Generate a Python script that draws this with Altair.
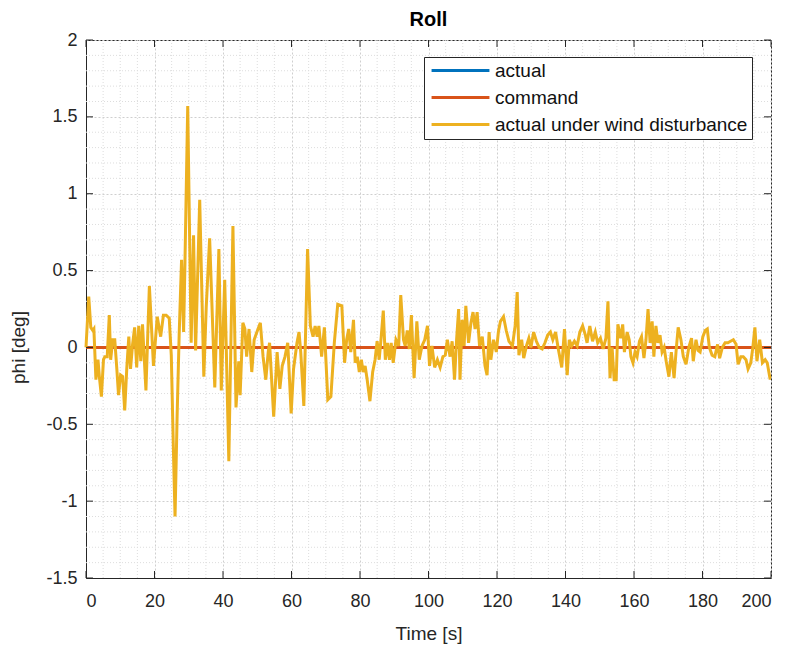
import altair as alt
import pandas as pd

TITLE = "Roll"
X_LABEL = "Time [s]"
Y_LABEL = "phi [deg]"
SERIES = ["actual", "command", "actual under wind disturbance"]
COLORS = ["#0072BD", "#D95319", "#EDB120"]
FONT = "Liberation Sans"

x_ticks = [0, 20, 40, 60, 80, 100, 120, 140, 160, 180, 200]
y_ticks = [-1.5, -1.0, -0.5, 0.0, 0.5, 1.0, 1.5, 2.0]
x_minor = [5, 10, 15, 25, 30, 35, 45, 50, 55, 65, 70, 75, 85, 90, 95, 105, 110, 115,
           125, 130, 135, 145, 150, 155, 165, 170, 175, 185, 190, 195]
y_minor = [-1.4, -1.3, -1.2, -1.1, -0.9, -0.8, -0.7, -0.6, -0.4, -0.3, -0.2, -0.1,
           0.1, 0.2, 0.3, 0.4, 0.6, 0.7, 0.8, 0.9, 1.1, 1.2, 1.3, 1.4, 1.6, 1.7, 1.8, 1.9]

# reference signals (actual and command both sit at zero)
ref_t = [0, 200]
actual_phi = [0.0, 0.0]
command_phi = [0.0, 0.0]

# actual under wind disturbance
t_seg1 = [0, 0.8, 1.4, 2.0, 2.3, 2.9, 3.5, 3.9, 4.5, 5.1, 5.5, 6.2, 6.8, 7.2, 7.8, 8.4,
          9.0, 9.5, 10.1, 10.7, 11.3, 11.9, 12.5, 13.0, 13.6, 14.2, 14.8, 15.4, 16.0,
          16.5, 17.5, 18.5, 19.7, 20.8, 21.8, 22.6, 23.4, 24.3, 24.9, 25.5, 26.0, 26.6,
          27.2, 27.9, 28.5, 28.9, 29.7, 30.7, 31.4, 32.0, 33.2, 34.4, 35.1, 36.1, 37.6,
          38.8, 39.5, 40.5, 41.7, 42.9, 43.8, 44.6, 45.0, 45.8]
v_seg1 = [0.0, 0.33, 0.13, 0.11, 0.12, -0.21, -0.08, -0.19, -0.32, -0.08, -0.06, -0.06,
          0.21, -0.08, 0.05, 0.05, -0.14, -0.31, -0.18, -0.19, -0.41, -0.14, 0.07, -0.14,
          0.02, 0.13, -0.13, 0.14, -0.09, 0.15, -0.28, 0.40, -0.12, 0.20, 0.07, 0.21,
          0.21, 0.19, -0.05, -0.65, -1.10, -0.45, 0.08, 0.57, 0.10, 0.56, 1.57, 0.03,
          0.73, -0.02, 0.96, -0.19, 0.26, 0.71, -0.26, 0.64, -0.28, 0.44, -0.74, 0.79,
          -0.39, -0.09, -0.31, 0.16]
t_seg2 = [46.4, 46.9, 47.6, 48.4, 49.1, 49.9, 50.9, 51.7, 52.5, 53.2, 53.6, 54.8, 55.8,
          56.6, 57.3, 58.1, 58.9, 59.9, 60.6, 61.6, 62.2, 62.7, 63.6, 64.7, 65.5, 66.3,
          66.9, 67.5, 68.0, 68.8, 69.6, 70.6, 71.5, 72.5, 73.5, 74.7]
v_seg2 = [0.12, -0.06, 0.12, -0.16, 0.05, 0.10, 0.16, -0.06, -0.21, -0.03, 0.03, -0.45,
          -0.03, -0.27, -0.12, -0.06, 0.03, -0.43, -0.14, 0.03, 0.10, -0.03, -0.38, 0.64,
          0.14, 0.07, 0.14, 0.07, 0.14, -0.06, 0.13, -0.34, -0.32, 0.03, 0.28, 0.27]
t_seg3 = [75.5, 76.1, 76.7, 77.3, 78.1, 78.6, 79.2, 79.8, 80.4, 80.9, 81.5, 82.1, 82.9,
          83.7, 84.4, 85.0, 85.6, 86.2, 86.8, 87.4, 88.0, 88.6, 89.1, 89.7, 90.5, 91.3,
          91.9, 92.7, 93.2, 93.8, 94.4, 95.0, 95.8, 96.6, 97.3, 98.1, 98.9, 99.7, 100.3,
          101.0, 101.8, 102.6, 103.4, 104.2, 104.9, 105.5, 106.3, 106.9, 107.6, 108.2,
          108.8, 109.2, 109.8, 110.4, 110.9, 111.7]
v_seg3 = [-0.10, 0.05, 0.12, -0.03, 0.18, -0.10, -0.06, -0.16, -0.08, -0.16, -0.12, -0.21,
          -0.35, -0.16, -0.08, 0.04, -0.08, 0.07, 0.24, -0.08, 0.03, -0.08, 0.03, -0.10,
          0.05, 0.01, 0.34, 0.05, 0.01, 0.11, -0.01, 0.21, -0.20, 0.17, -0.08, 0.01, 0.05,
          0.14, -0.12, 0.01, -0.13, -0.08, -0.13, -0.06, -0.05, 0.05, -0.06, 0.04, -0.21,
          0.05, 0.25, -0.21, 0.18, 0.01, 0.27, 0.03]
t_seg4 = [112.4, 113.0, 113.6, 114.2, 114.9, 115.7, 116.5, 117.1, 117.7, 118.2, 119.0,
          119.8, 120.4, 121.0, 121.9, 122.7, 123.5, 124.5, 125.3, 125.9, 126.4, 127.2,
          127.8, 128.6, 129.3, 129.9, 130.7, 131.5, 132.3, 133.2, 134.0, 134.8, 135.6,
          136.3, 137.1, 137.9, 138.9, 139.7, 140.5, 141.1, 141.8, 142.6, 143.4, 144.2,
          145.0, 145.8, 146.3, 147.1, 147.9, 148.7, 149.4, 150.2, 151.0, 151.8, 152.4,
          153.0, 153.6, 154.2]
v_seg4 = [0.16, 0.23, 0.12, 0.23, 0.01, 0.07, -0.12, -0.18, 0.10, -0.08, 0.05, -0.03,
          0.10, 0.17, 0.20, 0.11, 0.04, 0.01, 0.14, 0.36, -0.05, 0.05, -0.07, 0.01, 0.06,
          0.00, 0.10, 0.04, 0.00, -0.01, 0.03, 0.08, 0.10, 0.05, 0.10, -0.01, -0.13, 0.12,
          -0.18, 0.05, 0.01, 0.04, 0.01, 0.10, 0.14, 0.08, 0.03, 0.14, 0.04, 0.10, 0.03,
          0.06, -0.01, 0.06, 0.30, -0.20, 0.00, -0.21]
t_seg5 = [154.8, 155.3, 156.1, 156.7, 157.2, 158.0, 158.6, 159.1, 159.7, 160.3, 160.9,
          161.6, 162.2, 162.9, 163.5, 164.1, 164.7, 165.3, 165.8, 166.4, 167.0, 167.6,
          168.2, 168.8, 169.4, 170.2, 170.9, 171.7, 172.3, 172.9, 173.7, 174.4, 175.2,
          176.0, 176.8, 177.3, 178.1, 178.7, 179.3, 180.1, 180.8, 181.4, 182.0, 182.8,
          183.6, 184.4, 185.0, 185.8, 186.6, 187.4, 188.2, 189.0, 189.8, 190.4, 191.2,
          191.9, 192.7, 193.3, 194.1, 194.7, 195.3, 195.9, 196.7, 197.5, 198.3, 198.9,
          199.7, 200.0]
v_seg5 = [-0.21, 0.15, 0.06, 0.15, -0.03, 0.10, 0.05, -0.06, -0.10, -0.03, -0.06, 0.04,
          0.07, -0.07, 0.05, 0.25, 0.03, 0.17, -0.06, 0.14, 0.03, 0.08, -0.03, 0.00, -0.09,
          -0.19, -0.03, -0.20, -0.02, 0.13, 0.05, -0.06, -0.11, 0.00, 0.06, -0.09, 0.05,
          -0.02, -0.03, 0.07, 0.11, 0.12, 0.00, -0.05, -0.06, 0.02, -0.07, 0.00, 0.03,
          0.03, 0.04, 0.05, 0.02, -0.11, -0.06, -0.06, -0.08, -0.14, -0.10, 0.00, 0.13,
          -0.09, 0.05, -0.10, -0.08, -0.10, -0.20, -0.20]

W, H = 685, 538

wind_t = t_seg1 + t_seg2 + t_seg3 + t_seg4 + t_seg5
wind_v = v_seg1 + v_seg2 + v_seg3 + v_seg4 + v_seg5

df_actual = pd.DataFrame({"t": ref_t, "v": actual_phi, "series": SERIES[0]})
df_command = pd.DataFrame({"t": ref_t, "v": command_phi, "series": SERIES[1]})
df_wind = pd.DataFrame({"t": wind_t, "v": wind_v, "series": SERIES[2]})
df_xmaj = pd.DataFrame({"t": x_ticks})
df_ymaj = pd.DataFrame({"v": y_ticks})
df_xmin = pd.DataFrame({"t": x_minor})
df_ymin = pd.DataFrame({"v": y_minor})

x_scale = alt.Scale(domain=[0, 200], nice=False, zero=False)
y_scale = alt.Scale(domain=[-1.5, 2], nice=False, zero=False)

x_axis = alt.Axis(values=x_ticks, title=X_LABEL, grid=True, gridDash=[2, 2],
                  gridColor="#cfcfcf", tickSize=0, labelPadding=14,
                  labelExpr="'' + datum.value", titleY=55, titleBaseline="middle")
y_axis = alt.Axis(values=y_ticks, title=Y_LABEL, grid=True, gridDash=[2, 2],
                  gridColor="#cfcfcf", tickSize=0, labelPadding=9,
                  labelExpr="'' + datum.value", titleX=-68, titleY=307,
                  titleAngle=270, titleBaseline="middle", titleAlign="center")

X = alt.X("t:Q", scale=x_scale, axis=x_axis)
Y = alt.Y("v:Q", scale=y_scale, axis=y_axis)

color = alt.Color(
    "series:N",
    scale=alt.Scale(domain=SERIES, range=COLORS),
    legend=alt.Legend(
        title=None, orient="none", legendX=338, legendY=17, direction="vertical",
        strokeColor="#262626", fillColor="white", padding=4,
        symbolType="M-6,0L6,0", symbolSize=93, symbolStrokeWidth=3,
        symbolOffset=23, labelOffset=25, labelLimit=500,
        labelFontSize=19, labelFont=FONT, labelColor="#111111",
        rowPadding=7,
    ),
)

minor_x = alt.Chart(df_xmin).mark_rule(color="#dddddd", strokeDash=[1, 2], strokeWidth=1).encode(x=X)
minor_y = alt.Chart(df_ymin).mark_rule(color="#dddddd", strokeDash=[1, 2], strokeWidth=1).encode(y=Y)

line_actual = alt.Chart(df_actual).mark_line(strokeWidth=3).encode(x=X, y=Y, color=color)
line_command = alt.Chart(df_command).mark_line(strokeWidth=3).encode(x=X, y=Y, color=color)
line_wind = alt.Chart(df_wind).mark_line(strokeWidth=3).encode(x=X, y=Y, color=color)

tick_col = "#262626"
tick_bottom = alt.Chart(df_xmaj).mark_rule(color=tick_col).encode(x=X, y=alt.value(H), y2=alt.value(H - 7))
tick_top = alt.Chart(df_xmaj).mark_rule(color=tick_col).encode(x=X, y=alt.value(0), y2=alt.value(7))
tick_left = alt.Chart(df_ymaj).mark_rule(color=tick_col).encode(y=Y, x=alt.value(0), x2=alt.value(7))
tick_right = alt.Chart(df_ymaj).mark_rule(color=tick_col).encode(y=Y, x=alt.value(W), x2=alt.value(W - 7))

chart = alt.layer(
    minor_x, minor_y, line_actual, line_command, line_wind,
    tick_bottom, tick_top, tick_left, tick_right,
).properties(
    width=W, height=H,
    title=alt.Title(TITLE, fontSize=20, fontWeight="bold", font=FONT, color="#000000",
                    offset=1, anchor="middle"),
    autosize=alt.AutoSizeParams(type="none"),
    padding={"left": 86, "top": 40, "right": 25, "bottom": 68},
).configure_view(
    stroke="#262626", strokeWidth=1
).configure_axis(
    domainColor="#262626", labelFont=FONT, titleFont=FONT, labelFontSize=18,
    titleFontSize=19, labelColor="#262626", titleColor="#262626", titleFontWeight="normal",
)

chart.save("out.html", embed_options={"renderer": "svg", "actions": False})
